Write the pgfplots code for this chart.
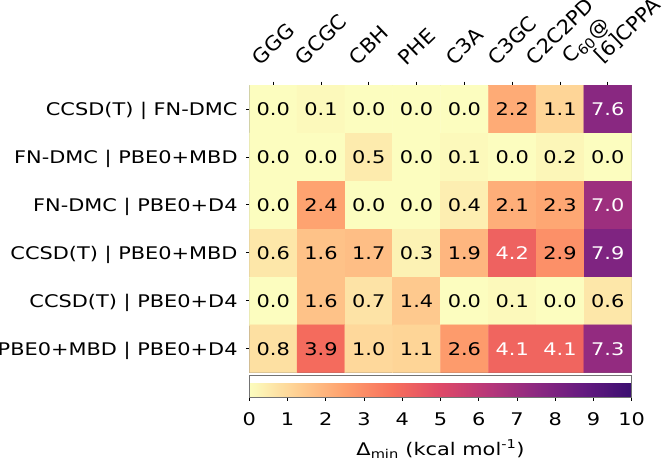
\documentclass[border=0pt]{standalone}
\usepackage{fontspec}
\setmainfont{DejaVu Sans}[FakeStretch=1.2]
\newfontfamily\colfont{DejaVu Sans}[FakeStretch=1.05]
\usepackage{graphicx}
\usepackage{pgfplots}
\usepackage{pgfplotstable}
\pgfplotsset{compat=1.18}

% x = column (system), y = row (method pair), v = Delta_min in kcal/mol
\pgfplotstableread{
x y v
0 0 0.0
1 0 0.1
2 0 0.0
3 0 0.0
4 0 0.0
5 0 2.2
6 0 1.1
7 0 7.6
0 1 0.0
1 1 0.0
2 1 0.5
3 1 0.0
4 1 0.1
5 1 0.0
6 1 0.2
7 1 0.0
0 2 0.0
1 2 2.4
2 2 0.0
3 2 0.0
4 2 0.4
5 2 2.1
6 2 2.3
7 2 7.0
0 3 0.6
1 3 1.6
2 3 1.7
3 3 0.3
4 3 1.9
5 3 4.2
6 3 2.9
7 3 7.9
0 4 0.0
1 4 1.6
2 4 0.7
3 4 1.4
4 4 0.0
5 4 0.1
6 4 0.0
7 4 0.6
0 5 0.8
1 5 3.9
2 5 1.0
3 5 1.1
4 5 2.6
5 5 4.1
6 5 4.1
7 5 7.3
}\deltas

\newcommand{\colsize}{\colfont\fontsize{20bp}{24bp}\selectfont}
\newcommand{\collab}[1]{\rotatebox{44}{\colsize #1}}

\pgfkeys{/pgf/number format/assume math mode=true}
\pgfplotsset{
  colormap={magmar}{
    rgb255=(252,253,191) rgb255=(254,207,146) rgb255=(254,159,109)
    rgb255=(247,112,92) rgb255=(222,73,104) rgb255=(183,55,121)
    rgb255=(140,41,129) rgb255=(100,26,128) rgb255=(59,15,112)
  },
  celltext/.style={
    draw=none, mark=none, point meta=explicit,
    nodes near coords={\pgfmathprintnumber[fixed,fixed zerofill,precision=1]{\pgfplotspointmeta}},
    every node near coord/.append style={anchor=center, inner sep=0pt, text=#1},
    unbounded coords=discard,
  },
}

\begin{document}
\fontsize{17.4bp}{21bp}\selectfont
\begin{tikzpicture}
\begin{axis}[
  at={(0,0)}, anchor=south west,
  scale only axis, width=382.4bp, height=287.7bp,
  xmin=-0.5, xmax=7.5, ymin=-0.5, ymax=5.5, y dir=reverse,
  enlargelimits=false,
  colormap name=magmar, point meta min=0, point meta max=10,
  xtick={0,...,7}, ytick={0,...,5},
  xticklabels={\collab{GGG}, \collab{GCGC}, \collab{CBH}, \collab{PHE},
    \collab{C3A}, \collab{C3GC}, \collab{C2C2PD}, {}},
  yticklabels={CCSD(T) | FN-DMC, FN-DMC | PBE0+MBD, FN-DMC | PBE0+D4,
    CCSD(T) | PBE0+MBD, CCSD(T) | PBE0+D4, PBE0+MBD | PBE0+D4},
  xtick pos=right, xticklabel pos=right, ytick pos=left,
  tick align=outside, major tick length=3.5bp,
  tick style={black, line width=0.8bp},
  axis line style={black!55, line width=0.8bp},
  xticklabel style={anchor=south, inner sep=0pt, yshift=15bp},
  yticklabel style={anchor=base east, inner sep=0pt, xshift=-8bp, yshift=-6.5bp},
  colorbar horizontal,
  colorbar style={
    at={(parent axis.south west)}, anchor=north west, yshift=6.2bp,
    scale only axis, width=382.4bp, height=22.3bp,
    xtick={0,...,10}, xtick pos=left, tick align=outside,
    major tick length=3.5bp, tick style={black, line width=0.8bp},
    axis line style={black!55, line width=0.8bp},
    xticklabel style={anchor=base, inner sep=0pt, yshift=-24.2bp},
    xlabel={Δ\textsubscript{min} (kcal mol\textsuperscript{-1})},
    xlabel style={at={(axis description cs:0.5,0)}, anchor=base,
      inner sep=0pt, yshift=-57.7bp},
  },
]
\addplot[matrix plot*, mesh/cols=8, point meta=explicit]
  table[x=x, y=y, meta=v]{\deltas};
\addplot[celltext=black, x filter/.expression={\thisrow{v}>4 ? nan : x}]
  table[x=x, y=y, meta=v]{\deltas};
\addplot[celltext=white, x filter/.expression={\thisrow{v}>4 ? x : nan}]
  table[x=x, y=y, meta=v]{\deltas};
\end{axis}
% two-line label of the last column, set by hand
\node[rotate=44, anchor=base west, inner sep=0pt, font=\colsize]
  at (321.2bp,308.2bp) {C\textsubscript{60}@};
\node[rotate=44, anchor=base west, inner sep=0pt, font=\colsize]
  at (352.7bp,308.7bp) {[6]CPPA};
\pgfresetboundingbox
\path[use as bounding box] (-249.3bp,-87.3bp) rectangle (416.7bp,372.7bp);
\end{tikzpicture}
\end{document}
